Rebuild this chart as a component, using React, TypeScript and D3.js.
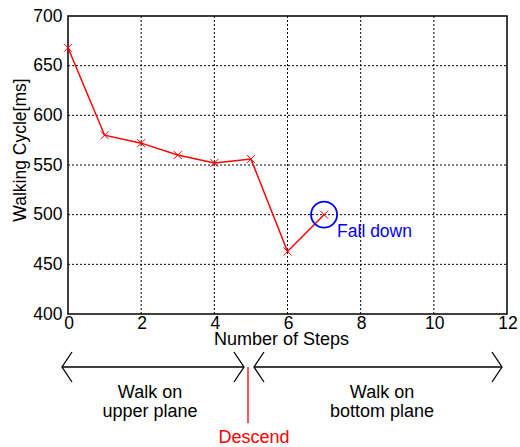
import React from 'react';
import * as d3 from 'd3';

const steps = [0, 1, 2, 3, 4, 5, 6, 7];
const cycles = [668, 580, 572, 560, 552, 556, 463, 500];
const xTicks = [0, 2, 4, 6, 8, 10, 12];
const yTicks = [400, 450, 500, 550, 600, 650, 700];
const fallIndex = 7;

const W = 520;
const H = 447;
const margin = {left: 68, top: 16, right: 13, bottom: 133};
const FONT = 'Arial, "Liberation Sans", sans-serif';

const App = () => {
    const x = d3.scaleLinear().domain([0, 12]).range([margin.left, W - margin.right]);
    const y = d3.scaleLinear().domain([400, 700]).range([H - margin.bottom, margin.top]);

    const line = d3.line<number>()
        .x((_, i) => x(steps[i]))
        .y(d => y(d));

    const [x0, x1] = x.range();
    const [y0, y1] = y.range();

    // arrow row below the axis
    const arrowY = 367;
    const descendX = 248;
    const leftA = [62, 244];
    const rightA = [254, 502];
    const armX = 10;
    const armY = 15;

    return (
        <svg width={W} height={H} style={{position: 'absolute', left: 0, top: 0}} fontFamily={FONT}>
            <rect width={W} height={H} fill="#fff"/>
            {/* grid */}
            <g stroke="#000" strokeWidth={1} strokeDasharray="2,2">
                {xTicks.slice(1, -1).map(t => (
                    <line key={'gx' + t} x1={x(t)} x2={x(t)} y1={y0} y2={y1}/>
                ))}
                {yTicks.slice(1, -1).map(t => (
                    <line key={'gy' + t} x1={x0} x2={x1} y1={y(t)} y2={y(t)}/>
                ))}
            </g>
            <rect x={x0} y={y1} width={x1 - x0} height={y0 - y1} fill="none" stroke="#000" strokeWidth={1.5}/>
            {/* tick labels */}
            <g fontSize={17.5} fill="#000">
                {xTicks.map(t => (
                    <text key={'tx' + t} x={x(t) + 1} y={y0 + 15} textAnchor="middle">{t}</text>
                ))}
                {yTicks.map(t => (
                    <text key={'ty' + t} x={x0 - 5.5} y={y(t) + 5.5} textAnchor="end">{t}</text>
                ))}
            </g>
            <text x={281.5} y={345} textAnchor="middle" fontSize={18}>Number of Steps</text>
            <text transform="translate(26,150) rotate(-90)" textAnchor="middle" fontSize={17.5}>Walking Cycle[ms]</text>

            {/* data */}
            <path d={line(cycles) ?? ''} fill="none" stroke="#f00" strokeWidth={1.5}/>
            <g stroke="#f00" strokeWidth={1}>
                {cycles.map((v, i) => {
                    const cx = x(steps[i]);
                    const cy = y(v);
                    const s = 4;
                    return (
                        <g key={'m' + i}>
                            <line x1={cx - s} y1={cy - s} x2={cx + s} y2={cy + s}/>
                            <line x1={cx - s} y1={cy + s} x2={cx + s} y2={cy - s}/>
                        </g>
                    );
                })}
            </g>
            <circle cx={x(steps[fallIndex])} cy={y(cycles[fallIndex])} r={13} fill="none" stroke="#00f" strokeWidth={1.8}/>
            <text x={x(steps[fallIndex]) + 13} y={y(cycles[fallIndex]) + 22} fontSize={17.5} fill="#00f">Fall down</text>

            {/* walk phases */}
            <g stroke="#000" strokeWidth={1.3} fill="none">
                <line x1={leftA[0]} x2={leftA[1]} y1={arrowY} y2={arrowY}/>
                <polyline points={`${leftA[0] + armX},${arrowY - armY} ${leftA[0]},${arrowY} ${leftA[0] + armX},${arrowY + armY}`}/>
                <polyline points={`${leftA[1] - armX},${arrowY - armY} ${leftA[1]},${arrowY} ${leftA[1] - armX},${arrowY + armY}`}/>
                <line x1={rightA[0]} x2={rightA[1]} y1={arrowY} y2={arrowY}/>
                <polyline points={`${rightA[0] + armX},${arrowY - armY} ${rightA[0]},${arrowY} ${rightA[0] + armX},${arrowY + armY}`}/>
                <polyline points={`${rightA[1] - armX},${arrowY - armY} ${rightA[1]},${arrowY} ${rightA[1] - armX},${arrowY + armY}`}/>
            </g>
            <g fontSize={18} textAnchor="middle">
                <text x={150} y={398}>Walk on</text>
                <text x={150} y={417}>upper plane</text>
                <text x={382} y={398}>Walk on</text>
                <text x={382} y={417}>bottom plane</text>
            </g>
            <line x1={descendX} x2={descendX} y1={arrowY} y2={423} stroke="#f00" strokeWidth={1.3}/>
            <text x={descendX + 6} y={443} fontSize={18} fill="#f00" textAnchor="middle">Descend</text>
        </svg>
    );
};

export default App;
